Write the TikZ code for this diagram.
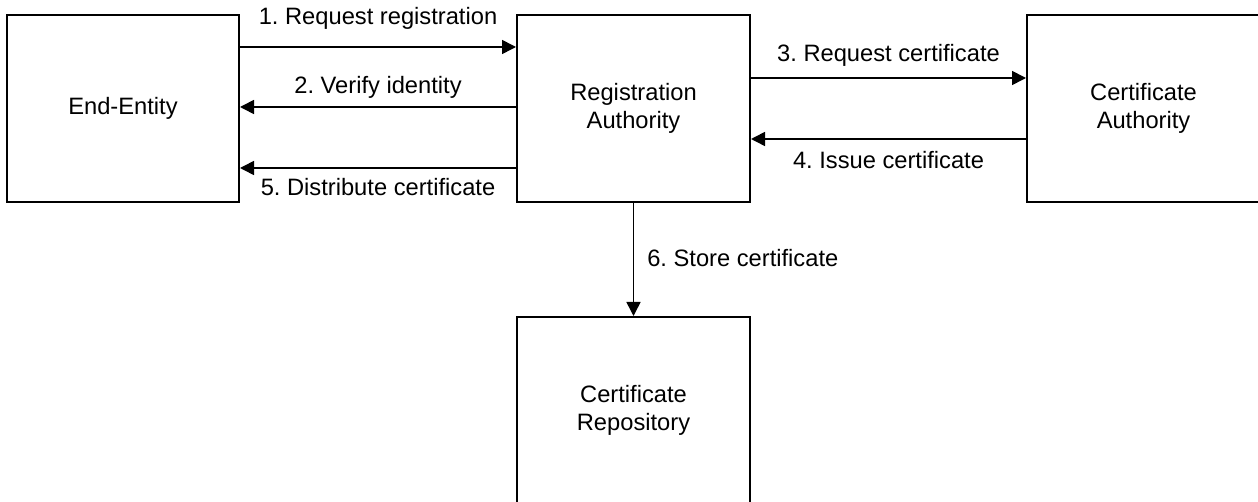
\documentclass[tikz,border=0pt]{standalone}
\usepackage{fontspec}
\setmainfont{Liberation Sans}
\usetikzlibrary{arrows.meta}
\frenchspacing

\tikzset{
  box/.style={draw, line width=2pt, minimum width=233pt, minimum height=187pt, align=center, inner sep=0pt},
  flow/.style={-{Triangle[length=14pt,width=14pt]}, line width=1.6pt},
  lbl/.style={anchor=base, inner sep=0pt}
}

\begin{document}
\begin{tikzpicture}[x=1pt, y=1pt, font=\fontsize{23.7}{27.5}\selectfont]
		\useasboundingbox (0,0) rectangle (1258,501);
		% boxes
		\node[box, minimum width=232pt] (ee) at (123,392.5) {End-Entity};
		\node[box] (ra) at (633.5,392.5) {Registration\\Authority};
		\node[box] (ca) at (1143.5,392.5) {Certificate\\Authority};
		\node[box] (repo) at (633.5,90.5) {Certificate\\Repository};
		% end-entity and registration authority
		\draw[flow] ([yshift=-33pt]ee.north east) -- node[lbl, yshift=22pt] {1. Request registration} ([yshift=-33pt]ra.north west);
		\draw[flow] ([yshift=-93pt]ra.north west) -- node[lbl, yshift=13pt] {2. Verify identity} ([yshift=-93pt]ee.north east);
		\draw[flow] ([yshift=-154pt]ra.north west) -- node[lbl, yshift=-28pt] {5. Distribute certificate} ([yshift=-154pt]ee.north east);
		% registration and certificate authority
		\draw[flow] ([yshift=-64pt]ra.north east) -- node[lbl, yshift=16pt] {3. Request certificate} ([yshift=-64pt]ca.north west);
		\draw[flow] ([yshift=-125pt]ca.north west) -- node[lbl, yshift=-30pt] {4. Issue certificate} ([yshift=-125pt]ra.north east);
		% repository
		\draw[flow] (ra.south) -- node[lbl, anchor=base west, xshift=13pt, yshift=-7.5pt] {6. Store certificate} (repo.north);
	\end{tikzpicture}
\end{document}
